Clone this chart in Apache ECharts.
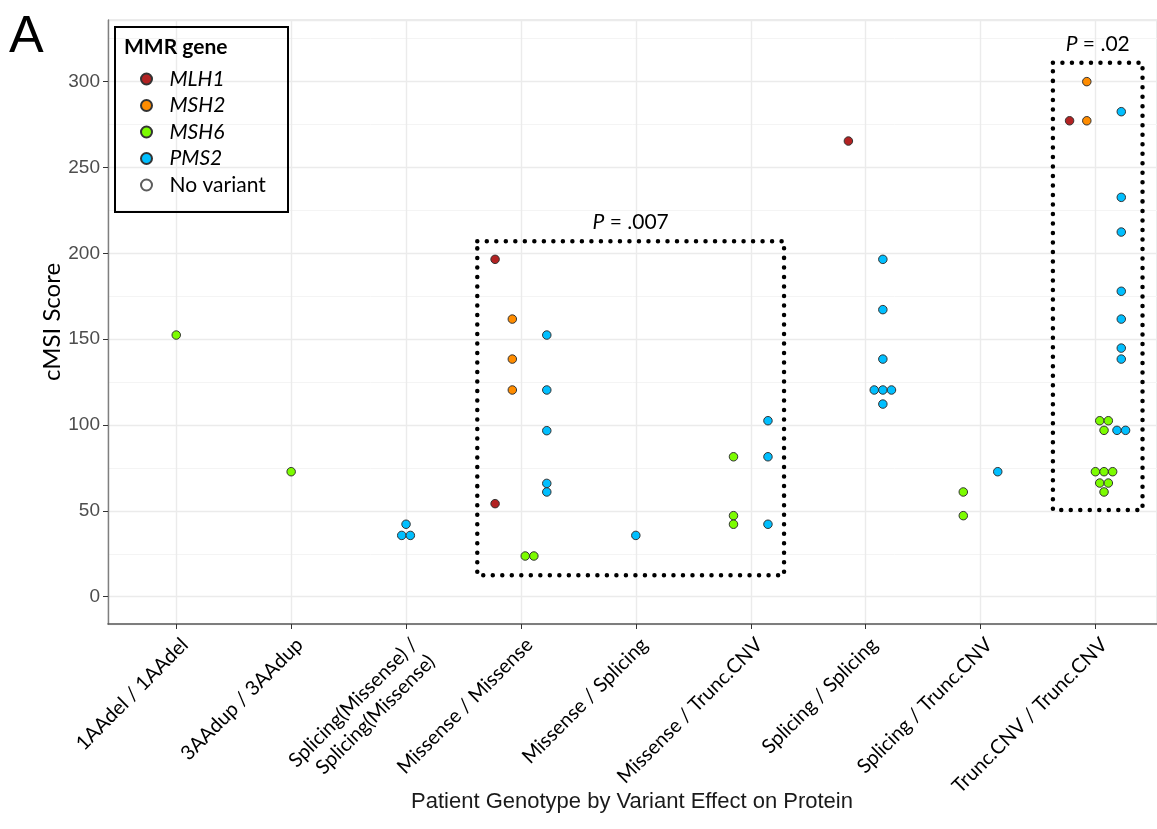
<!DOCTYPE html>
<html>
<head>
<meta charset="utf-8">
<title>cMSI score by patient genotype</title>
<script src="https://cdn.jsdelivr.net/npm/echarts@6/dist/echarts.min.js"></script>
<style>
  html, body { margin: 0; padding: 0; background: #fff; }
  #chart { width: 1157px; height: 829px; }
</style>
</head>
<body>
<div id="chart"></div>
<script>
// Patient genotype categories (x axis, numbered 1..9 in the score lists)
const categories = [
    '1AAdel / 1AAdel',
    '3AAdup / 3AAdup',
    'Splicing(Missense) /\nSplicing(Missense)',
    'Missense / Missense',
    'Missense / Splicing',
    'Missense / Trunc.CNV',
    'Splicing / Splicing',
    'Splicing / Trunc.CNV',
    'Trunc.CNV / Trunc.CNV'
];

// cMSI scores per MMR gene, as [category number, score]
const mlh1 = [[4, 196.5], [4, 54.2], [7, 265.4], [9, 277.2]];
const msh2 = [[4, 161.7], [4, 138.4], [4, 120.4], [9, 300], [9, 277.2]];
const msh6 = [
    [1, 152.4], [2, 72.8], [4, 23.7], [4, 23.7],
    [6, 81.5], [6, 47.2], [6, 42.2], [8, 61.0], [8, 47.2],
    [9, 102.5], [9, 102.5], [9, 96.9], [9, 72.8], [9, 72.8], [9, 72.8],
    [9, 66.2], [9, 66.2], [9, 61.0]
];
const pms2 = [
    [3, 42.2], [3, 35.7], [3, 35.7],
    [4, 152.4], [4, 120.4], [4, 96.7], [4, 66.0], [4, 61.0],
    [5, 35.7], [6, 102.5], [6, 81.5], [6, 42.2],
    [7, 196.5], [7, 167.2], [7, 138.4], [7, 120.4], [7, 120.4], [7, 120.4], [7, 112.2],
    [8, 72.8],
    [9, 282.5], [9, 232.6], [9, 212.4], [9, 177.9], [9, 161.7], [9, 144.8], [9, 138.4],
    [9, 96.9], [9, 96.9]
];

const genes = ['MLH1', 'MSH2', 'MSH6', 'PMS2'];
const geneScores = [mlh1, msh2, msh6, pms2];
const geneColors = ['#b22222', '#ff8c00', '#7cfc00', '#00bfff'];

// Boxed comparisons with their P values
const boxFrom = [3.62, 8.63];
const boxTo = [6.29, 9.41];
const boxLow = [12.5, 50.5];
const boxHigh = [207, 311];
const boxP = ['.007', '.02'];

const DODGE = 0.6;   // width shared by the genes of one category
const SWARM = 0.075; // side step for tied scores

// genes that have points in a category
function genesIn(cat) {
    return geneScores
        .map((g, i) => (g.some(p => p[0] === cat) ? i : -1))
        .filter(i => i >= 0);
}

// dodge by gene, then spread tied scores side by side
function placePoints(gi) {
    const pts = geneScores[gi];
    const seen = {};
    return pts.map(([cat, score]) => {
        const present = genesIn(cat);
        const k = present.indexOf(gi);
        const dodge = -DODGE / 2 + (k + 0.5) * DODGE / present.length;
        const ties = pts.filter(p => p[0] === cat && p[1] === score).length;
        const key = cat + ':' + score;
        const j = seen[key] || 0;
        seen[key] = j + 1;
        return [cat + dodge + (j - (ties - 1) / 2) * SWARM, score];
    });
}

const chart = echarts.init(document.getElementById('chart'));

const textFont = 'Lato, "Open Sans", sans-serif';
const tickFont = '"Liberation Sans", Arial, sans-serif';
const gridTop = 20;
const gridHeight = 604;

const scatterSeries = genes.map((name, i) => ({
    name: name,
    type: 'scatter',
    xAxisIndex: 0,
    yAxisIndex: 0,
    symbol: 'circle',
    symbolSize: 8.5,
    itemStyle: { color: geneColors[i], borderColor: '#333', borderWidth: 1, opacity: 1 },
    emphasis: { disabled: true },
    data: placePoints(i),
    z: 5
}));

const option = {
    animation: false,
    backgroundColor: '#fff',
    grid: [
        { left: 108, right: 0, top: gridTop, height: gridHeight, show: true, borderColor: '#d6d6d6', borderWidth: 1 },
        // category labels sit on a grid whose ends are the first and last category
        { left: 176.3, width: 919.2, top: gridTop, height: gridHeight }
    ],
    xAxis: [
        {
            type: 'value', gridIndex: 0, min: 0.406, max: 9.536,
            axisLine: { show: true, onZero: false, lineStyle: { color: '#595959', width: 1.6 } },
            axisTick: { show: false }, axisLabel: { show: false }, splitLine: { show: false }
        },
        {
            type: 'category', gridIndex: 1, data: categories, boundaryGap: false,
            axisLine: { show: false, onZero: false },
            axisTick: { show: true, length: 5, lineStyle: { color: '#333', width: 1 } },
            splitLine: { show: true, lineStyle: { color: '#ebebeb', width: 1.4 } },
            axisLabel: {
                rotate: 45, interval: 0, margin: 9,
                align: 'right', verticalAlign: 'top',
                fontFamily: textFont, fontSize: 20, color: '#000', lineHeight: 24
            }
        }
    ],
    yAxis: [
        {
            type: 'value', gridIndex: 0, min: -15.9, max: 335.9, splitNumber: 7,
            axisLine: { show: true, onZero: false, lineStyle: { color: '#7f7f7f', width: 1.4 } },
            axisTick: { show: true, length: 5, lineStyle: { color: '#333', width: 1 } },
            axisLabel: {
                showMinLabel: false, showMaxLabel: false, margin: 8,
                fontFamily: tickFont, fontSize: 19, color: '#4d4d4d'
            },
            splitLine: { show: true, lineStyle: { color: '#ebebeb', width: 1.4 } },
            minorTick: { show: false, splitNumber: 2 },
            minorSplitLine: { show: true, lineStyle: { color: '#f4f4f4', width: 1 } }
        },
        { type: 'value', gridIndex: 1, show: false, min: 0, max: 1 }
    ],
    legend: {
        data: genes.concat(['No variant']),
        orient: 'vertical',
        left: 140, top: 68.5, padding: 0,
        itemWidth: 28, itemHeight: 11, itemGap: 5.5,
        icon: 'circle',
        selectedMode: false,
        formatter: name => (name === 'No variant' ? name : '{i|' + name + '}'),
        textStyle: {
            fontFamily: textFont, fontSize: 21, color: '#000', lineHeight: 20,
            padding: [0, 0, 0, 4],
            rich: { i: { fontStyle: 'italic', fontFamily: textFont, fontSize: 21, color: '#000', lineHeight: 20 } }
        }
    },
    graphic: [
        { type: 'text', left: 9, top: 12, style: { text: 'A', font: '52px "Liberation Sans", Arial, sans-serif', fill: '#000' } },
        {
            type: 'rect', shape: { x: 115, y: 27, width: 173, height: 185 },
            style: { fill: 'none', stroke: '#000', lineWidth: 2 }, z: 10
        },
        { type: 'text', x: 124, y: 47, style: { text: 'MMR gene', font: 'bold 21px ' + textFont, fill: '#000', verticalAlign: 'middle' }, z: 10 },
        {
            type: 'text', x: 52, y: 322, rotation: Math.PI / 2,
            style: { text: 'cMSI Score', font: '24px ' + textFont, fill: '#000', align: 'center', verticalAlign: 'middle' }
        },
        {
            type: 'text', x: 632, y: 802,
            style: { text: 'Patient Genotype by Variant Effect on Protein', font: '22px ' + tickFont, fill: '#1a1a1a', align: 'center', verticalAlign: 'middle' }
        }
    ],
    series: scatterSeries.concat([
        {
            name: 'No variant', type: 'scatter', xAxisIndex: 0, yAxisIndex: 0,
            symbol: 'circle', symbolSize: 8.5,
            itemStyle: { color: '#fff', borderColor: '#333', borderWidth: 1 },
            data: []
        },
        {
            name: 'boxes', type: 'custom', xAxisIndex: 0, yAxisIndex: 0, clip: false, z: 4,
            encode: { x: [0, 1], y: [2, 3] },
            data: boxFrom.map((x0, i) => [x0, boxTo[i], boxLow[i], boxHigh[i]]),
            renderItem: (params, api) => {
                const tl = api.coord([api.value(0), api.value(3)]);
                const br = api.coord([api.value(1), api.value(2)]);
                return {
                    type: 'group',
                    children: [
                        {
                            type: 'rect',
                            shape: { x: tl[0], y: tl[1], width: br[0] - tl[0], height: br[1] - tl[1] },
                            style: { fill: 'none', stroke: '#000', lineWidth: 4.5, lineDash: [0.01, 9.5], lineCap: 'round' }
                        },
                        {
                            type: 'text', x: (tl[0] + br[0]) / 2, y: tl[1] - 19,
                            style: {
                                text: '{i|P} = ' + boxP[params.dataIndex],
                                fontFamily: textFont, fontSize: 21, fill: '#000',
                                align: 'center', verticalAlign: 'middle',
                                rich: { i: { fontStyle: 'italic', fontFamily: textFont, fontSize: 21, fill: '#000' } }
                            }
                        }
                    ]
                };
            }
        }
    ])
};

chart.setOption(option);

window.addEventListener('resize', () => chart.resize());
</script>
</body>
</html>
